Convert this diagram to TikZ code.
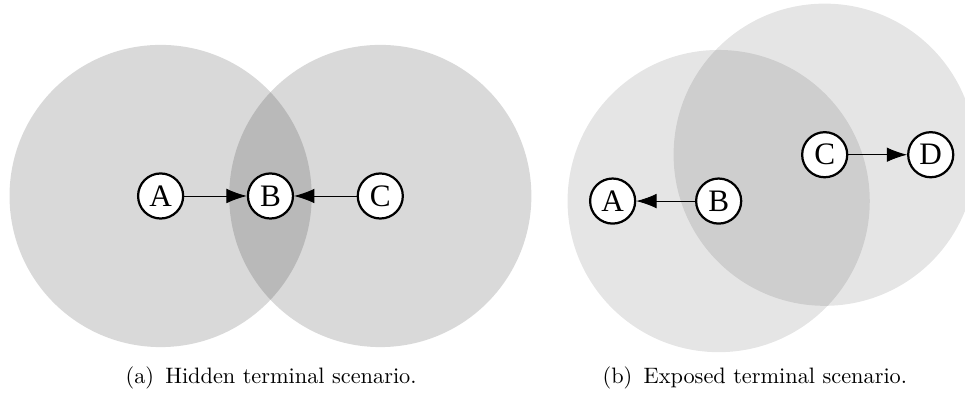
\documentclass[tikz,border=0pt]{standalone}
\usepackage{amsmath,amsfonts,amssymb}
\usepackage{fontspec}
\usepackage{tikz}
\usetikzlibrary{arrows.meta,positioning,backgrounds}
\newfontfamily\stationfont{Liberation Serif}

\begin{document}
\begin{tikzpicture}[
  station/.style={circle, draw, line width=1pt, fill=white, minimum size=0.71cm,
    font=\stationfont\fontsize{14}{16}\selectfont, inner sep=0pt},
  coverage/.style={fill=black, fill opacity=0.15},
  faintcoverage/.style={fill=black, fill opacity=0.1},
  link/.style={draw, ->, >={Latex[length=3.2mm,width=2.3mm]}},
  node distance=1.73cm, on grid
]
\useasboundingbox (0,0) rectangle (15.2,6.237);

% hidden terminal
\node[station] (hA) at (2.53,3.15) {A};
\node[station, right=of hA] (hB) {B};
\node[station, right=of hB] (hC) {C};
\draw[link] (hA) -- (hB);
\draw[link] (hC) -- (hB);
\begin{scope}[on background layer]
  \fill[coverage] (hA) circle (2.38cm);
  \fill[coverage] (hC) circle (2.38cm);
\end{scope}
\node[anchor=base] (capa) at (4.27,0.2) {(a)\enspace Hidden terminal scenario.};

% exposed terminal
\node[station] (eA) at (9.65,3.07) {A};
\node[station, right=1.67cm of eA] (eB) {B};
\node[station] (eC) at (12.99,3.80) {C};
\node[station, right=1.67cm of eC] (eD) {D};
\draw[link] (eB) -- (eA);
\draw[link] (eC) -- (eD);
\begin{scope}[on background layer]
  \fill[faintcoverage] (eB) circle (2.38cm);
  \fill[faintcoverage] (eC) circle (2.38cm);
\end{scope}
\node[anchor=base] (capb) at (11.89,0.2) {(b)\enspace Exposed terminal scenario.};
\end{tikzpicture}
\end{document}
